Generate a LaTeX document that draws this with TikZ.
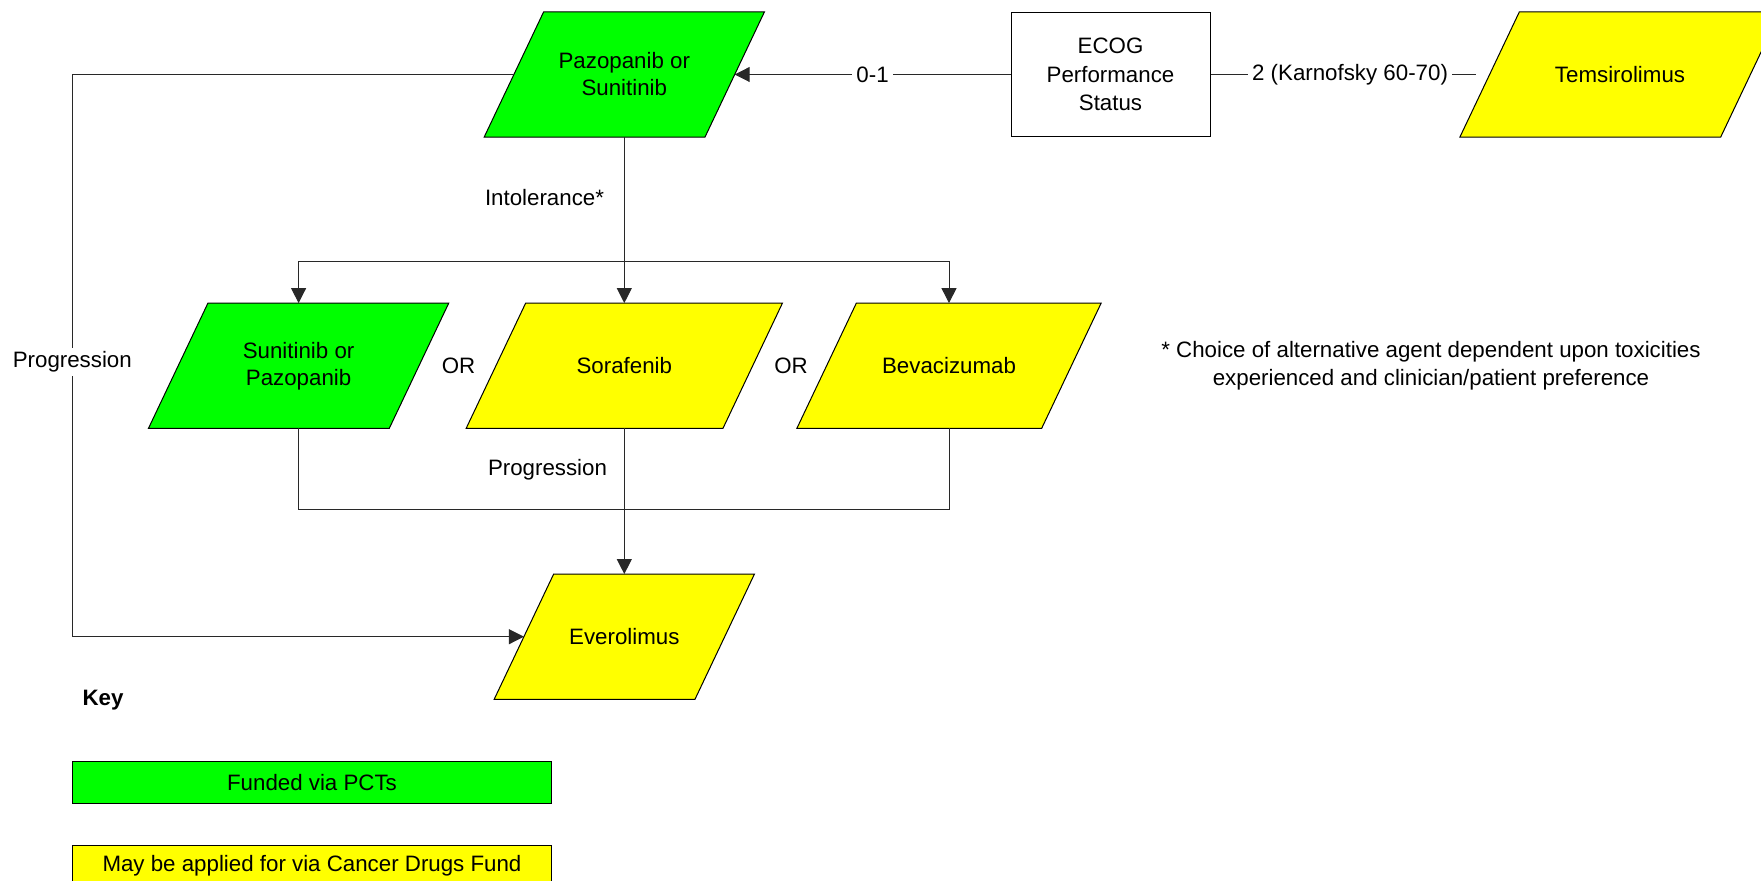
\documentclass[tikz,border=0pt]{standalone}
\usepackage{fontspec}
\setmainfont{Liberation Sans}
\usetikzlibrary{arrows.meta,backgrounds,calc}
\definecolor{cgreen}{RGB}{0,255,0}
\definecolor{cyellow}{RGB}{255,255,0}
\definecolor{cline}{RGB}{40,40,40}
\tikzset{
  shapebox/.style={rectangle, inner sep=0pt, minimum height=62.25pt, align=center},
  conn/.style={draw=cline, line width=0.5pt},
  arr/.style={conn, -{Triangle[length=7.5pt,width=7.5pt]}},
  lbl/.style={fill=white, inner sep=2pt},
  plain/.style={inner sep=0pt, align=center},
  parafill/.style={draw=black, line width=0.5pt, line join=miter},
  keybox/.style={rectangle, draw=black, line width=0.5pt, inner sep=0pt, minimum width=239.5pt, minimum height=20.8pt},
}
\newcommand\parab[2]{\path[parafill, fill=#2] ([xshift=14.875pt]#1.north west) -- ([xshift=14.875pt]#1.north east) -- ([xshift=-14.875pt]#1.south east) -- ([xshift=-14.875pt]#1.south west) -- cycle;}
\begin{document}
\begin{tikzpicture}[x=0.5pt, y=-0.5pt, font=\fontsize{11.15}{13.5}\selectfont]
\useasboundingbox (0,0) rectangle (1761,881);

% main shapes
\node[shapebox, minimum width=110pt] (top) at (624.3,74.5) {Pazopanib or\\Sunitinib};
\node[rectangle, draw=black, line width=0.5pt, fill=white, minimum width=99.5pt, minimum height=62.2pt, inner sep=0pt, align=center, font=\fontsize{11.15}{14.2}\selectfont] (ecog) at (1110.5,74.5) {ECOG\\Performance\\Status};
\node[shapebox, minimum width=130pt] (temsi) at (1620,74.5) {Temsirolimus};
\node[shapebox, minimum width=120pt] (sun) at (298.6,365.75) {Sunitinib or\\Pazopanib};
\node[shapebox, minimum width=128pt] (sora) at (624.3,365.75) {Sorafenib};
\node[shapebox, minimum width=122pt] (beva) at (949,365.75) {Bevacizumab};
\node[shapebox, minimum width=100pt] (ever) at (624.3,636.7) {Everolimus};

\begin{scope}[on background layer]
  \parab{top}{cgreen}
  \parab{temsi}{cyellow}
  \parab{sun}{cgreen}
  \parab{sora}{cyellow}
  \parab{beva}{cyellow}
  \parab{ever}{cyellow}
\end{scope}

% junction coordinates
\coordinate (j1) at (624.3,262);
\coordinate (j2) at (624.3,509.3);
\coordinate (pl) at (72.3,361);

% connectors
\draw[arr] (ecog.west) -- node[lbl] (l01) {0-1} (top.east);
\draw[conn, shorten >=7pt] (ecog.east) -- node[lbl] (l2) {2 (Karnofsky 60-70)} (temsi.west);
\draw[conn] (top.south) -- (j1);
\draw[arr] (j1) -| (sun.north);
\draw[arr] (j1) -- (sora.north);
\draw[arr] (j1) -| (beva.north);
\draw[conn] (sun.south) |- (j2);
\draw[conn] (beva.south) |- (j2);
\draw[arr] (sora.south) -- (ever.north);
\draw[arr] (top.west) -| (pl) |- (ever.west);

% labels
\node[lbl] (progl) at (72.3,362) {Progression};
\node[plain] (intol) at (544.5,198) {Intolerance*};
\node[plain] (prog2) at (547.5,470) {Progression};
\node[plain] (or1) at (458.5,366) {OR};
\node[plain] (or2) at (791,366) {OR};
\node[plain, font=\fontsize{11.15}{13.8}\selectfont] (note) at (1431,366) {* Choice of alternative agent dependent upon toxicities\\experienced and clinician/patient preference};

% key
\node[plain, font=\fontsize{11.15}{13.5}\selectfont\bfseries] (key) at (103,700) {Key};
\node[keybox, fill=cgreen] (kg) at (312,782.5) {Funded via PCTs};
\node[keybox, fill=cyellow] (ky) at (312,865.8) {May be applied for via Cancer Drugs Fund};
\end{tikzpicture}
\end{document}
